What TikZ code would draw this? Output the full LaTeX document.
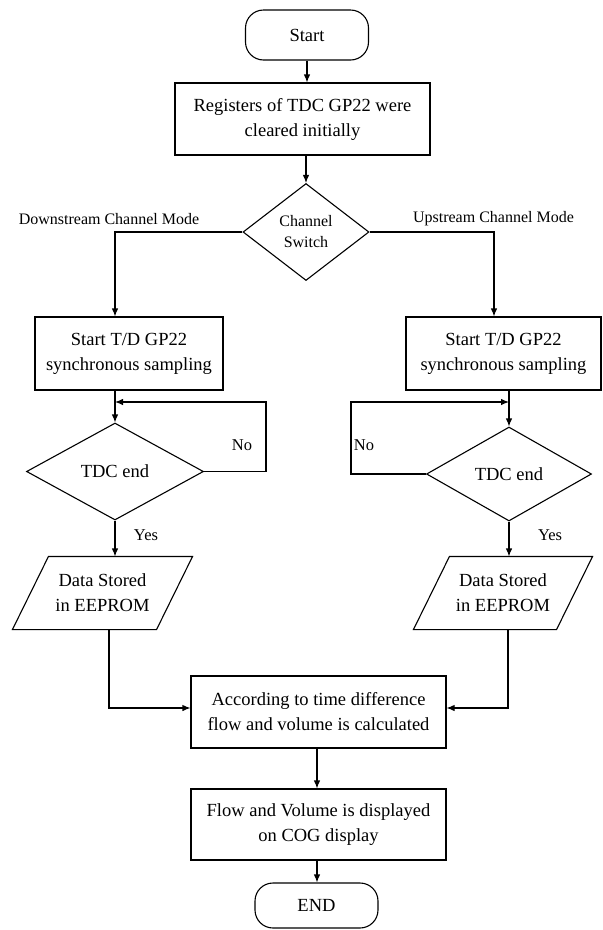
\documentclass[tikz,border=0pt]{standalone}
\usepackage{fontspec}
\setmainfont{Liberation Serif}
\newfontfamily\tnr{Liberation Serif}
\usetikzlibrary{shapes.geometric,arrows.meta}
\begin{document}
\begin{tikzpicture}[x=1pt,y=-1pt,
  line width=1.1pt,
  >={Latex[length=8pt,width=6.5pt]},
  body/.style={font=\tnr\fontsize{18.5}{25}\selectfont, align=center},
  small/.style={font=\tnr\fontsize{16}{21}\selectfont, align=center},
  procbox/.style={draw, rectangle, body, inner sep=0pt},
  term/.style={draw, rectangle, rounded corners=18pt, body, inner sep=0pt},
  decide/.style={draw, diamond, inner sep=0pt},
  io/.style={body, inner sep=0pt},
  lbl/.style={font=\tnr\fontsize{16.5}{20}\selectfont, inner sep=0pt}
]
\useasboundingbox (0,0) rectangle (603,930);

% nodes
\node[term, minimum width=123pt, minimum height=50pt] (start) at (307,35) {Start};
\node[procbox, minimum width=255pt, minimum height=72pt] (reg) at (302.5,119) {Registers of TDC GP22 were\\cleared initially};
\node[decide, small, minimum width=126pt, minimum height=97pt] (sw) at (306,232) {Channel\\Switch};
\node[small] (dlab) at (109,219) {Downstream Channel Mode};
\node[small] (ulab) at (493.5,219) {Upstream Channel Mode};

\node[procbox, minimum width=188pt, minimum height=73pt] (boxL) at (129,353.5) {Start T/D GP22\\synchronous sampling};
\node[procbox, minimum width=195pt, minimum height=73pt] (boxR) at (503.5,353.5) {Start T/D GP22\\synchronous sampling};

\node[decide, body, minimum width=177pt, minimum height=97pt] (tdcL) at (115,471.5) {TDC end};
\node[decide, body, minimum width=165pt, minimum height=94pt] (tdcR) at (509,474) {TDC end};

\node[io, minimum width=143pt, minimum height=72pt] (dataL) at (102.5,593) {Data Stored\\in EEPROM};
\node[io, minimum width=142pt, minimum height=72pt] (dataR) at (503,593) {Data Stored\\in EEPROM};
\draw ([xshift=18pt]dataL.north west) -- ([xshift=18pt]dataL.north east) -- ([xshift=-18pt]dataL.south east) -- ([xshift=-18pt]dataL.south west) -- cycle;
\draw ([xshift=18pt]dataR.north west) -- ([xshift=18pt]dataR.north east) -- ([xshift=-18pt]dataR.south east) -- ([xshift=-18pt]dataR.south west) -- cycle;

\node[procbox, minimum width=255pt, minimum height=72pt] (calc) at (318.5,712) {According to time difference\\flow and volume is calculated};
\node[procbox, minimum width=255pt, minimum height=71pt] (disp) at (318.5,824.5) {Flow and Volume is displayed\\on COG display};
\node[term, minimum width=123pt, minimum height=45pt] (endn) at (316.5,905.5) {END};

\node[lbl] (noL) at (242,445) {No};
\node[lbl] (noR) at (364,445) {No};
\node[lbl] (yesL) at (146,535) {Yes};
\node[lbl] (yesR) at (550,535) {Yes};

% helper coordinates
\coordinate (inR) at (494,0);
\coordinate (loopL) at (266,402);
\coordinate (loopR) at (351,402);
\coordinate (outL) at (109,708);
\coordinate (outR) at (508,708);
\coordinate (midX) at (317,0);

% connectors
\draw[->] (start.south) -- (start.south |- reg.north);
\draw[->] (reg.south -| sw.north) -- (sw.north);
\draw[->] (sw.west) -| (tdcL.north |- boxL.north);
\draw[->] (sw.east) -| (inR |- boxR.north);
\draw[->] (boxL.south -| tdcL.north) -- (tdcL.north);
\draw[->] (boxR.south -| tdcR.north) -- (tdcR.north);
\draw[->] (tdcL.east) -| (loopL) -- (loopL -| tdcL.north);
\draw[->] (tdcR.west) -| (loopR) -- (loopR -| tdcR.north);
\draw[->] (tdcL.south) -- (tdcL.south |- dataL.north);
\draw[->] (tdcR.south) -- (tdcR.south |- dataR.north);
\draw[->] (outL |- dataL.south) -- (outL) -- (outL -| calc.west);
\draw[->] (outR |- dataR.south) -- (outR) -- (outR -| calc.east);
\draw[->] (calc.south -| midX) -- (disp.north -| midX);
\draw[->] (disp.south -| midX) -- (endn.north -| midX);
\end{tikzpicture}
\end{document}
